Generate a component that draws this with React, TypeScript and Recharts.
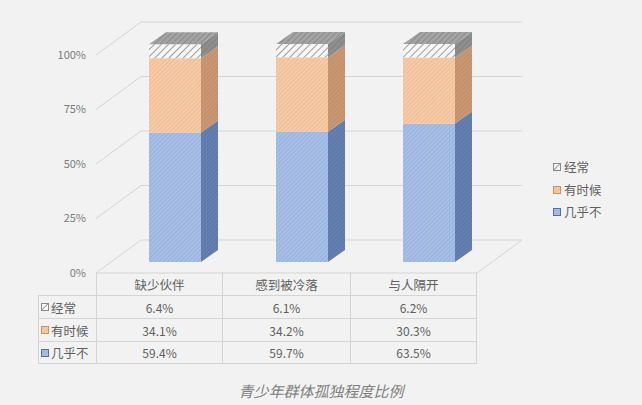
import { Bar, BarChart, CartesianGrid, XAxis, YAxis } from 'recharts';

// 青少年群体孤独程度比例（%）
const CATEGORIES = ['缺少伙伴', '感到被冷落', '与人隔开'];
const OFTEN = [6.4, 6.1, 6.2];
const SOMETIMES = [34.1, 34.2, 30.3];
const HARDLY = [59.4, 59.7, 63.5];
const Y_TICKS = [0, 25, 50, 75, 100];

const SERIES = [
  { key: 'often', name: '经常', values: OFTEN, swatch: 'url(#grayF)', edge: '#8a8a8a' },
  { key: 'sometimes', name: '有时候', values: SOMETIMES, swatch: 'url(#orangeF)', edge: '#d0915c' },
  { key: 'hardly', name: '几乎不', values: HARDLY, swatch: 'url(#blueF)', edge: '#4f6fa5' },
];

const rows = CATEGORIES.map((name, i) => ({
  name,
  often: OFTEN[i],
  sometimes: SOMETIMES[i],
  hardly: HARDLY[i],
}));

// 3D 偏移：背墙、柱子所在深度、柱子自身厚度
const WALL_X = 45;
const WALL_Y = 33;
const SHIFT_X = 15;
const SHIFT_Y = 11;
const DEPTH_X = 17;
const DEPTH_Y = 12;

const FONT = '"Noto Sans CJK SC", "Noto Sans", sans-serif';
const TEXT = '#5f5f5f';
const LINE = '#d4d4d4';

function Prism(props: any) {
  const { x, y, width, height, front, side, top } = props;
  if (width == null || height == null) return null;
  const fx = x + SHIFT_X;
  const fy = y - SHIFT_Y;
  const r = fx + width;
  return (
    <g>
      <polygon
        points={`${r},${fy + height} ${r},${fy} ${r + DEPTH_X},${fy - DEPTH_Y} ${r + DEPTH_X},${fy + height - DEPTH_Y}`}
        fill={side}
      />
      <rect x={fx} y={fy} width={width} height={height} fill={front} />
      {top && (
        <polygon
          points={`${fx},${fy} ${fx + DEPTH_X},${fy - DEPTH_Y} ${r + DEPTH_X},${fy - DEPTH_Y} ${r},${fy}`}
          fill={top}
        />
      )}
    </g>
  );
}

function GridLine(props: any) {
  const { x1, x2, y1, index } = props;
  const bx = x1 + WALL_X;
  const by = y1 - WALL_Y;
  return (
    <g key={`g-${index}-${y1}`}>
      <line x1={x1} y1={y1} x2={bx} y2={by} stroke={LINE} />
      <line x1={bx} y1={by} x2={x2 + WALL_X} y2={by} stroke={LINE} />
      {Math.abs(y1 - 273) < 1 && (
        <>
          <line x1={x1} y1={y1} x2={x2} y2={y1} stroke={LINE} />
          <line x1={x2} y1={y1} x2={x2 + WALL_X} y2={by} stroke={LINE} />
        </>
      )}
    </g>
  );
}

function Hatch({ id, bg, fg, gap, w }: { id: string; bg: string; fg: string; gap: number; w: number }) {
  return (
    <pattern id={id} patternUnits="userSpaceOnUse" width={gap} height={gap} patternTransform="rotate(45)">
      <rect width={gap} height={gap} fill={bg} />
      <line x1={0} y1={0} x2={0} y2={gap} stroke={fg} strokeWidth={w} />
    </pattern>
  );
}

function Swatch({ fill, edge }: { fill: string; edge: string }) {
  return (
    <svg width={8} height={8} style={{ display: 'block' }}>
      <rect x={0.5} y={0.5} width={7} height={7} fill={fill} stroke={edge} />
    </svg>
  );
}

const COL_X = [96, 222, 350, 477];
const ROW_Y = [273, 295, 318, 341, 364];

export default function App() {
  return (
    <div
      style={{
        position: 'relative',
        width: 642,
        height: 405,
        background: '#f2f2f2',
        fontFamily: FONT,
        color: TEXT,
        overflow: 'hidden',
      }}
    >
      <style>{'body{margin:0}'}</style>
      <svg width={0} height={0} style={{ position: 'absolute' }}>
        <defs>
          <Hatch id="blueF" bg="#a9c0e6" fg="#84a0d2" gap={3} w={1} />
          <Hatch id="blueS" bg="#6480b0" fg="#546f9e" gap={3} w={1} />
          <Hatch id="orangeF" bg="#f6cba8" fg="#e6ad80" gap={3} w={1} />
          <Hatch id="orangeS" bg="#c99771" fg="#b88560" gap={3} w={1} />
          <Hatch id="grayF" bg="#f7f7f7" fg="#9d9d9d" gap={5} w={2} />
          <Hatch id="grayS" bg="#8e8e8e" fg="#7c7c7c" gap={4} w={1.5} />
          <Hatch id="grayT" bg="#a3a3a3" fg="#858585" gap={4} w={1.5} />
        </defs>
      </svg>

      <BarChart
        width={642}
        height={405}
        data={rows}
        margin={{ top: 55, right: 165, bottom: 132, left: 36 }}
        barCategoryGap={0}
      >
        <CartesianGrid vertical={false} horizontal={(p: any) => <GridLine {...p} />} />
        <XAxis dataKey="name" hide />
        <YAxis
          width={60}
          domain={[0, 100]}
          ticks={Y_TICKS}
          tickFormatter={(v) => `${v}%`}
          axisLine={false}
          tickLine={false}
          tickSize={8}
          tickMargin={2}
          tick={{ fill: '#7a7a7a', fontSize: 11, fontFamily: FONT }}
        />
        <Bar
          dataKey="hardly"
          stackId="a"
          barSize={52}
          isAnimationActive={false}
          shape={(p: any) => <Prism {...p} front="url(#blueF)" side="url(#blueS)" />}
        />
        <Bar
          dataKey="sometimes"
          stackId="a"
          barSize={52}
          isAnimationActive={false}
          shape={(p: any) => <Prism {...p} front="url(#orangeF)" side="url(#orangeS)" />}
        />
        <Bar
          dataKey="often"
          stackId="a"
          barSize={52}
          isAnimationActive={false}
          shape={(p: any) => <Prism {...p} front="url(#grayF)" side="url(#grayS)" top="url(#grayT)" />}
        />
      </BarChart>

      {/* 图例 */}
      <div style={{ position: 'absolute', left: 553, top: 156, fontSize: 12.5, lineHeight: '22.5px' }}>
        {SERIES.map((s) => (
          <div key={s.key} style={{ display: 'flex', alignItems: 'center', gap: 3 }}>
            <Swatch fill={s.swatch} edge={s.edge} />
            <span>{s.name}</span>
          </div>
        ))}
      </div>

      {/* 数据表 */}
      <div style={{ position: 'absolute', left: 0, top: 0 }}>
        {CATEGORIES.map((c, i) => (
          <div
            key={c}
            style={{
              position: 'absolute',
              left: COL_X[i],
              top: ROW_Y[0],
              width: COL_X[i + 1] - COL_X[i],
              height: ROW_Y[1] - ROW_Y[0],
              borderLeft: `1px solid ${LINE}`,
              borderRight: i === 2 ? `1px solid ${LINE}` : undefined,
              boxSizing: 'border-box',
              display: 'flex',
              alignItems: 'center',
              justifyContent: 'center',
              fontSize: 12.5,
            }}
          >
            {c}
          </div>
        ))}
        {SERIES.map((s, r) => (
          <div key={s.key}>
            <div
              style={{
                position: 'absolute',
                left: 38,
                top: ROW_Y[r + 1],
                width: COL_X[0] - 38,
                height: ROW_Y[r + 2] - ROW_Y[r + 1],
                border: `1px solid ${LINE}`,
                borderRight: 'none',
                borderBottom: r === 2 ? `1px solid ${LINE}` : 'none',
                boxSizing: 'border-box',
                display: 'flex',
                alignItems: 'center',
                gap: 2,
                paddingLeft: 2,
                fontSize: 12.5,
              }}
            >
              <Swatch fill={s.swatch} edge={s.edge} />
              <span>{s.name}</span>
            </div>
            {s.values.map((v, i) => (
              <div
                key={i}
                style={{
                  position: 'absolute',
                  left: COL_X[i],
                  top: ROW_Y[r + 1],
                  width: COL_X[i + 1] - COL_X[i],
                  height: ROW_Y[r + 2] - ROW_Y[r + 1],
                  border: `1px solid ${LINE}`,
                  borderRight: i === 2 ? `1px solid ${LINE}` : 'none',
                  borderBottom: r === 2 ? `1px solid ${LINE}` : 'none',
                  boxSizing: 'border-box',
                  display: 'flex',
                  alignItems: 'center',
                  justifyContent: 'center',
                  fontSize: 12,
                }}
              >
                {`${v.toFixed(1)}%`}
              </div>
            ))}
          </div>
        ))}
      </div>

      <div
        style={{
          position: 'absolute',
          left: 0,
          width: 642,
          top: 380,
          textAlign: 'center',
          fontSize: 15,
          fontStyle: 'italic',
          color: '#808080',
        }}
      >
        青少年群体孤独程度比例
      </div>
    </div>
  );
}
